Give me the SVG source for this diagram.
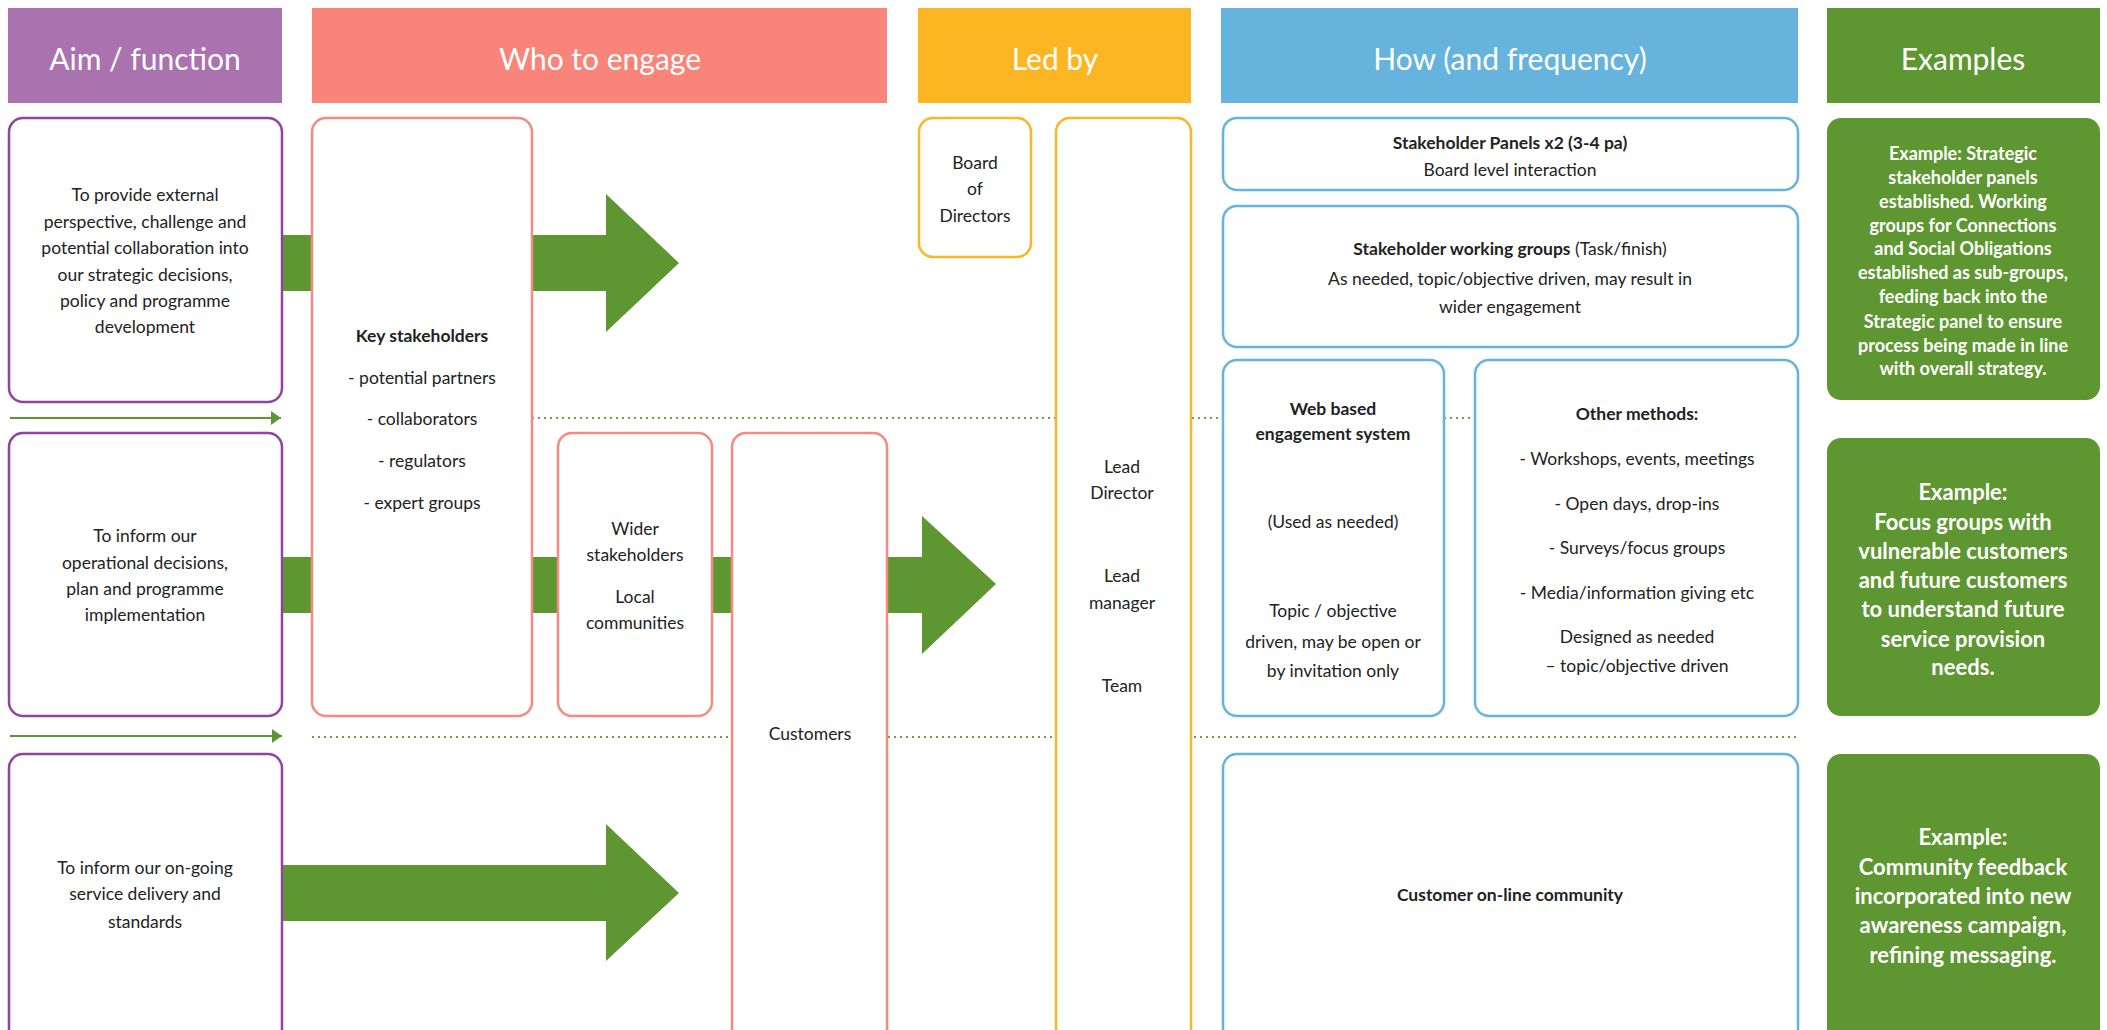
<svg xmlns="http://www.w3.org/2000/svg" width="2107" height="1030" viewBox="0 0 2107 1030">
<defs>
<style>
text{font-family:Lato,"Open Sans","Liberation Sans",sans-serif;text-anchor:middle}
.hdr{font-size:30px;fill:#fff}
.t{font-size:17.5px;fill:#222}
.b{font-weight:700}
.ex1{font-size:18px;fill:#fff;font-weight:700}
.ex2{font-size:22px;fill:#fff;font-weight:700}
.aim{fill:#fff;stroke:#8E44A0;stroke-width:2.5}
.who{fill:#fff;stroke:#F58A80;stroke-width:2.5}
.led{fill:#fff;stroke:#FDB623;stroke-width:2.5}
.how{fill:#fff;stroke:#66B4DE;stroke-width:2.5}
.exb{fill:#5E9732}
.big{fill:#5E9732}
.dot{stroke:#6BA23E;stroke-width:2;stroke-dasharray:2 4;fill:none}
.thin{stroke:#5E9732;stroke-width:2;fill:none}
</style>
<marker id="ah" markerWidth="10" markerHeight="14" refX="10" refY="7" orient="auto" markerUnits="userSpaceOnUse">
<path d="M0,0 L10,7 L0,14 Z" fill="#5E9732"/>
</marker>
</defs>
<rect width="2107" height="1030" fill="#fff"/>

<g id="headers">
<g id="hdr-aim"><rect x="8" y="8" width="274" height="95" fill="#AB72B0"/><text class="hdr" x="145" y="70">Aim / function</text></g>
<g id="hdr-who"><rect x="312" y="8" width="575" height="95" fill="#F8847A"/><text class="hdr" x="600" y="70">Who to engage</text></g>
<g id="hdr-led"><rect x="918" y="8" width="273" height="95" fill="#FDB623"/><text class="hdr" x="1055" y="70">Led by</text></g>
<g id="hdr-how"><rect x="1221" y="8" width="577" height="95" fill="#66B4DE"/><text class="hdr" x="1510" y="70">How (and frequency)</text></g>
<g id="hdr-ex"><rect x="1827" y="8" width="273" height="95" fill="#5E9732"/><text class="hdr" x="1963" y="70">Examples</text></g>
</g>

<g id="connectors">
<line class="dot" x1="532" y1="418" x2="1798" y2="418"/>
<line class="dot" x1="312" y1="737" x2="1798" y2="737"/>
<line class="thin" x1="10" y1="418" x2="281" y2="418" marker-end="url(#ah)"/>
<line class="thin" x1="10" y1="736" x2="282" y2="736" marker-end="url(#ah)"/>
<polygon class="big" points="282,235 606,235 606,194 679,263 606,332 606,291 282,291"/>
<polygon class="big" points="282,557 922,557 922,516 996,584 922,654 922,613 282,613"/>
<polygon class="big" points="282,865 606,865 606,824 679,893 606,961 606,921 282,921"/>
</g>

<g id="aim1"><rect class="aim" x="9" y="118" width="273" height="284" rx="14"/>
<text class="t"><tspan x="145" y="201">To provide external</tspan><tspan x="145" y="228">perspective, challenge and</tspan><tspan x="145" y="254">potential collaboration into</tspan><tspan x="145" y="281">our strategic decisions,</tspan><tspan x="145" y="307">policy and programme</tspan><tspan x="145" y="333">development</tspan></text></g>
<g id="aim2"><rect class="aim" x="9" y="433" width="273" height="283" rx="14"/>
<text class="t"><tspan x="145" y="542">To inform our</tspan><tspan x="145" y="569">operational decisions,</tspan><tspan x="145" y="595">plan and programme</tspan><tspan x="145" y="621">implementation</tspan></text></g>
<g id="aim3"><rect class="aim" x="9" y="754" width="273" height="300" rx="14"/>
<text class="t"><tspan x="145" y="874">To inform our on-going</tspan><tspan x="145" y="900">service delivery and</tspan><tspan x="145" y="928">standards</tspan></text></g>

<g id="key-stakeholders"><rect class="who" x="312" y="118" width="220" height="598" rx="14"/>
<text class="t"><tspan class="b" x="422" y="342">Key stakeholders</tspan><tspan x="422" y="384">- potential partners</tspan><tspan x="422" y="425">- collaborators</tspan><tspan x="422" y="467">- regulators</tspan><tspan x="422" y="509">- expert groups</tspan></text></g>
<g id="wider-stakeholders"><rect class="who" x="558" y="433" width="154" height="283" rx="14"/>
<text class="t"><tspan x="635" y="535">Wider</tspan><tspan x="635" y="561">stakeholders</tspan><tspan x="635" y="603">Local</tspan><tspan x="635" y="629">communities</tspan></text></g>
<g id="customers"><rect class="who" x="732" y="433" width="155" height="620" rx="14"/>
<text class="t" x="810" y="740">Customers</text></g>

<g id="board"><rect class="led" x="919" y="118" width="112" height="139" rx="14"/>
<text class="t"><tspan x="975" y="169">Board</tspan><tspan x="975" y="195">of</tspan><tspan x="975" y="222">Directors</tspan></text></g>
<g id="lead"><rect class="led" x="1056" y="118" width="135" height="935" rx="14"/>
<text class="t"><tspan x="1122" y="473">Lead</tspan><tspan x="1122" y="499">Director</tspan><tspan x="1122" y="582">Lead</tspan><tspan x="1122" y="609">manager</tspan><tspan x="1122" y="692">Team</tspan></text></g>

<g id="panels"><rect class="how" x="1223" y="118" width="575" height="72" rx="14"/>
<text class="t"><tspan class="b" x="1510" y="149">Stakeholder Panels x2 (3-4 pa)</tspan><tspan x="1510" y="176">Board level interaction</tspan></text></g>
<g id="working-groups"><rect class="how" x="1223" y="206" width="575" height="141" rx="14"/>
<text class="t"><tspan x="1510" y="255"><tspan class="b">Stakeholder working groups</tspan> (Task/finish)</tspan><tspan x="1510" y="285">As needed, topic/objective driven, may result in</tspan><tspan x="1510" y="313">wider engagement</tspan></text></g>
<g id="web-based"><rect class="how" x="1223" y="360" width="221" height="356" rx="14"/>
<text class="t"><tspan class="b" x="1333" y="415">Web based</tspan><tspan class="b" x="1333" y="440">engagement system</tspan><tspan x="1333" y="528">(Used as needed)</tspan><tspan x="1333" y="617">Topic / objective</tspan><tspan x="1333" y="648">driven, may be open or</tspan><tspan x="1333" y="677">by invitation only</tspan></text></g>
<g id="other-methods"><rect class="how" x="1475" y="360" width="323" height="356" rx="14"/>
<text class="t"><tspan class="b" x="1637" y="420">Other methods:</tspan><tspan x="1637" y="465">- Workshops, events, meetings</tspan><tspan x="1637" y="510">- Open days, drop-ins</tspan><tspan x="1637" y="554">- Surveys/focus groups</tspan><tspan x="1637" y="599">- Media/information giving etc</tspan><tspan x="1637" y="643">Designed as needed</tspan><tspan x="1637" y="672">– topic/objective driven</tspan></text></g>
<g id="online-community"><rect class="how" x="1223" y="754" width="575" height="300" rx="14"/>
<text class="t b" x="1510" y="901">Customer on-line community</text></g>

<g id="example1"><rect class="exb" x="1827" y="118" width="273" height="282" rx="14"/>
<text class="ex1"><tspan x="1963" y="160">Example: Strategic</tspan><tspan x="1963" y="184">stakeholder panels</tspan><tspan x="1963" y="208">established. Working</tspan><tspan x="1963" y="232">groups for Connections</tspan><tspan x="1963" y="255">and Social Obligations</tspan><tspan x="1963" y="279">established as sub-groups,</tspan><tspan x="1963" y="303">feeding back into the</tspan><tspan x="1963" y="328">Strategic panel to ensure</tspan><tspan x="1963" y="352">process being made in line</tspan><tspan x="1963" y="375">with overall strategy.</tspan></text></g>
<g id="example2"><rect class="exb" x="1827" y="438" width="273" height="278" rx="14"/>
<text class="ex2"><tspan x="1963" y="500">Example:</tspan><tspan x="1963" y="530">Focus groups with</tspan><tspan x="1963" y="559">vulnerable customers</tspan><tspan x="1963" y="588">and future customers</tspan><tspan x="1963" y="617">to understand future</tspan><tspan x="1963" y="647">service provision</tspan><tspan x="1963" y="675">needs.</tspan></text></g>
<g id="example3"><rect class="exb" x="1827" y="754" width="273" height="300" rx="14"/>
<text class="ex2"><tspan x="1963" y="845">Example:</tspan><tspan x="1963" y="875">Community feedback</tspan><tspan x="1963" y="904">incorporated into new</tspan><tspan x="1963" y="933">awareness campaign,</tspan><tspan x="1963" y="963">refining messaging.</tspan></text></g>
</svg>
